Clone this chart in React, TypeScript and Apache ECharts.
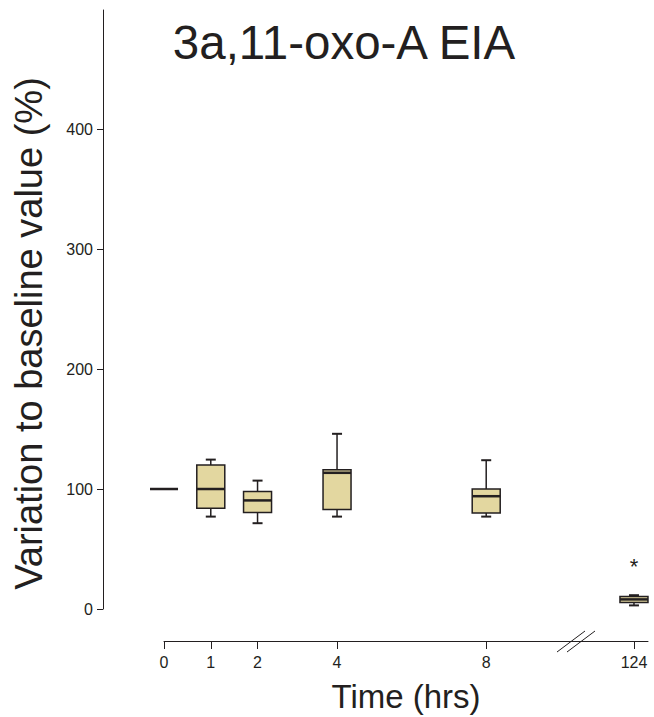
import React, { useEffect, useRef } from 'react';
import * as echarts from 'echarts';

// Time points (hours) and their positions on the broken time axis
const timeLabels = ['0', '1', '2', '4', '8', '124'];
const axisPositions = [0, 1, 2, 3.7, 6.89, 10.05];

// Box plot statistics (% of baseline)
const whiskerLow = [100, 77, 71.5, 77, 77, 3];
const quartile1 = [100, 84, 80.5, 83, 80, 5.5];
const medians = [100, 100, 90.5, 113.5, 94, 8];
const quartile3 = [100, 120, 98, 116, 100, 10.5];
const whiskerHigh = [100, 124.5, 107, 146, 124, 11.5];

// Significance marks
const markTimes = ['124'];
const markValues = [40];
const markTexts = ['*'];

const yTicks = [0, 100, 200, 300, 400];

const INK = '#231f20';
const FILL = '#e3d7a0';
const FONT = "'Liberation Sans', Arial, sans-serif";

export default function App() {
  const ref = useRef<HTMLDivElement>(null);

  useEffect(() => {
    document.body.style.margin = '0';
    if (!ref.current) return;
    const chart = echarts.init(ref.current, null, { renderer: 'svg' });

    const boxData = timeLabels.map((_, i) => [
      axisPositions[i],
      whiskerLow[i],
      quartile1[i],
      medians[i],
      quartile3[i],
      whiskerHigh[i],
    ]);
    const markData = markTimes.map((t, i) => [
      axisPositions[timeLabels.indexOf(t)],
      markValues[i],
      markTexts[i],
    ]);

    const labelFor = (v: number) => {
      const idx = axisPositions.findIndex((p) => Math.abs(p - v) < 1e-6);
      return idx >= 0 ? timeLabels[idx] : '';
    };

    chart.setOption({
      animation: false,
      title: {
        text: '3a,11-oxo-A EIA',
        left: 339,
        top: 13,
        textAlign: 'center',
        textStyle: {
          fontFamily: FONT,
          fontSize: 47.5,
          fontWeight: 'normal',
          color: INK,
        },
      },
      grid: [
        { left: 103, right: 6, top: 10, bottom: 108 },
        { left: 164, width: 484, top: 600, height: 41 },
      ],
      xAxis: [
        {
          type: 'value',
          gridIndex: 0,
          min: -1.305,
          max: 10.35,
          show: false,
        },
        {
          type: 'value',
          gridIndex: 1,
          min: 0,
          max: 10.35,
          position: 'bottom',
          axisLine: { show: true, onZero: false, lineStyle: { color: INK, width: 1 } },
          axisTick: { show: true, length: 8, customValues: axisPositions, lineStyle: { color: INK } },
          axisLabel: {
            show: true,
            customValues: axisPositions,
            formatter: labelFor,
            margin: 13,
            fontSize: 16,
            fontFamily: FONT,
            color: INK,
          },
          splitLine: { show: false },
          name: 'Time (hrs)',
          nameLocation: 'middle',
          nameGap: 39,
          nameTextStyle: { fontSize: 33, fontFamily: FONT, color: INK },
        },
      ],
      yAxis: [
        {
          type: 'value',
          gridIndex: 0,
          min: 0,
          max: 499.2,
          axisLine: { show: true, onZero: false, lineStyle: { color: INK, width: 1 } },
          axisTick: { show: true, length: 6, customValues: yTicks, lineStyle: { color: INK } },
          axisLabel: {
            show: true,
            customValues: yTicks,
            margin: 10,
            fontSize: 16,
            fontFamily: FONT,
            color: INK,
          },
          splitLine: { show: false },
          name: 'Variation to baseline value (%)',
          nameLocation: 'middle',
          nameGap: 55,
          nameTextStyle: { fontSize: 38, fontFamily: FONT, color: INK, padding: [0, 48, 0, 0] },
        },
        { type: 'value', gridIndex: 1, show: false },
      ],
      series: [
        {
          type: 'custom',
          xAxisIndex: 0,
          yAxisIndex: 0,
          data: boxData,
          renderItem: (params: any, api: any) => {
            const x = api.value(0);
            const lo = api.coord([x, api.value(1)]);
            const q1 = api.coord([x, api.value(2)]);
            const md = api.coord([x, api.value(3)]);
            const q3 = api.coord([x, api.value(4)]);
            const hi = api.coord([x, api.value(5)]);
            const cx = lo[0];
            const hw = 14;
            const cap = 5;
            const children: any[] = [];
            const ls = { stroke: INK, lineWidth: 1.5 };
            if (hi[1] < q3[1] - 0.5) {
              children.push({ type: 'line', shape: { x1: cx, y1: hi[1], x2: cx, y2: q3[1] }, style: ls });
              children.push({ type: 'line', shape: { x1: cx - cap, y1: hi[1], x2: cx + cap, y2: hi[1] }, style: { stroke: INK, lineWidth: 2 } });
            }
            if (lo[1] > q1[1] + 0.5) {
              children.push({ type: 'line', shape: { x1: cx, y1: q1[1], x2: cx, y2: lo[1] }, style: ls });
              children.push({ type: 'line', shape: { x1: cx - cap, y1: lo[1], x2: cx + cap, y2: lo[1] }, style: { stroke: INK, lineWidth: 2 } });
            }
            children.push({
              type: 'rect',
              shape: { x: cx - hw, y: q3[1], width: hw * 2, height: q1[1] - q3[1] },
              style: { fill: FILL, stroke: INK, lineWidth: 1.5 },
            });
            children.push({
              type: 'line',
              shape: { x1: cx - hw, y1: md[1], x2: cx + hw, y2: md[1] },
              style: { stroke: INK, lineWidth: 2.5 },
            });
            return { type: 'group', children };
          },
        },
        {
          type: 'custom',
          xAxisIndex: 0,
          yAxisIndex: 0,
          data: markData,
          renderItem: (params: any, api: any) => {
            const p = api.coord([api.value(0), api.value(1)]);
            const d = markData[params.dataIndex];
            return {
              type: 'text',
              x: p[0],
              y: p[1] + 5,
              style: {
                text: d[2],
                fontSize: 22,
                fontFamily: FONT,
                fill: INK,
                align: 'center',
                verticalAlign: 'middle',
              },
            };
          },
        },
      ],
      graphic: [
        { type: 'line', shape: { x1: 557, y1: 652, x2: 585, y2: 631 }, style: { stroke: INK, lineWidth: 1 } },
        { type: 'line', shape: { x1: 567, y1: 652, x2: 595, y2: 631 }, style: { stroke: INK, lineWidth: 1 } },
      ],
    });

    return () => chart.dispose();
  }, []);

  return <div ref={ref} style={{ width: 654, height: 717 }} />;
}
